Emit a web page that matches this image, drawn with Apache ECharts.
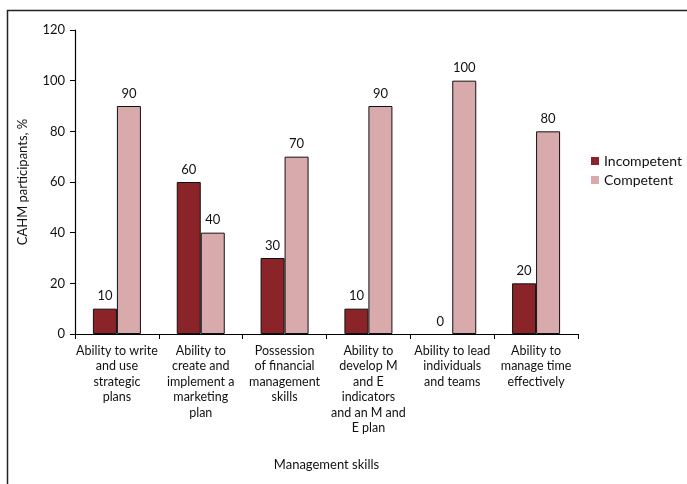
<!DOCTYPE html>
<html>
<head>
<meta charset="utf-8">
<script src="https://cdn.jsdelivr.net/npm/echarts@6/dist/echarts.min.js"></script>
<style>html,body{margin:0;padding:0;background:#fff}#c{width:687px;height:484px}</style>
</head>
<body>
<div id="c"></div>
<script>
var categories = [
  "Ability to write\nand use\nstrategic\nplans",
  "Ability to\ncreate and\nimplement a\nmarketing\nplan",
  "Possession\nof financial\nmanagement\nskills",
  "Ability to\ndevelop M\nand E\nindicators\nand an M and\nE plan",
  "Ability to lead\nindividuals\nand teams",
  "Ability to\nmanage time\neffectively"
];
var incompetent = [10, 60, 30, 10, 0, 20];
var competent = [90, 40, 70, 90, 100, 80];
var yTicks = [0, 20, 40, 60, 80, 100, 120];

function items(arr) {
  return arr.map(function (v) {
    return v === 0 ? { value: v, itemStyle: { borderWidth: 0 } } : v;
  });
}

var FONT = 'Lato';
var chart = echarts.init(document.getElementById('c'));
chart.setOption({
  animation: false,
  textStyle: { fontFamily: FONT },
  graphic: [{
    type: 'rect', left: 5, top: 8,
    shape: { width: 700, height: 500 },
    style: { fill: 'none', stroke: '#222', lineWidth: 1.5 }, silent: true
  }],
  grid: { left: 75, right: 109, top: 30, bottom: 150 },
  legend: {
    orient: 'vertical', left: 591, top: 154, padding: 0,
    itemWidth: 8, itemHeight: 8, itemGap: 5,
    icon: 'rect',
    textStyle: { fontFamily: FONT, fontSize: 14, color: '#111' },
    itemStyle: { borderWidth: 0 },
    data: ['Incompetent', 'Competent']
  },
  xAxis: {
    type: 'category', data: categories,
    name: 'Management skills', nameLocation: 'middle', nameGap: 124,
    nameTextStyle: { fontFamily: FONT, fontSize: 13, color: '#111' },
    axisLine: { lineStyle: { color: '#000', width: 1.2 } },
    axisTick: { show: true, length: 5, alignWithLabel: false, lineStyle: { color: '#000' } },
    axisLabel: { interval: 0, margin: 9, fontFamily: FONT, fontSize: 12.5, color: '#111', lineHeight: 15.5, align: 'center' }
  },
  yAxis: {
    type: 'value', min: 0, max: 120, interval: 20,
    name: 'CAHM participants, %', nameLocation: 'middle', nameGap: 46,
    nameTextStyle: { fontFamily: FONT, fontSize: 13, color: '#111' },
    splitLine: { show: false },
    axisLine: { show: true, lineStyle: { color: '#000', width: 1.2 } },
    axisTick: { show: true, length: 5, lineStyle: { color: '#000' } },
    axisLabel: { margin: 10, fontFamily: FONT, fontSize: 13, color: '#111',
      formatter: function (v) { return yTicks.indexOf(v) >= 0 ? String(v) : ''; } }
  },
  series: [{
    name: 'Incompetent', type: 'bar', data: items(incompetent),
    barWidth: 24, barGap: '0%',
    itemStyle: { color: '#8B2428', borderColor: '#111', borderWidth: 1 },
    label: { show: true, position: 'top', distance: 6, fontFamily: FONT, fontSize: 13, color: '#111' }
  }, {
    name: 'Competent', type: 'bar', data: items(competent),
    barWidth: 24, barGap: '0%',
    itemStyle: { color: '#D9AAAC', borderColor: '#111', borderWidth: 1 },
    label: { show: true, position: 'top', distance: 6, fontFamily: FONT, fontSize: 13, color: '#111' }
  }]
});
</script>
</body>
</html>
